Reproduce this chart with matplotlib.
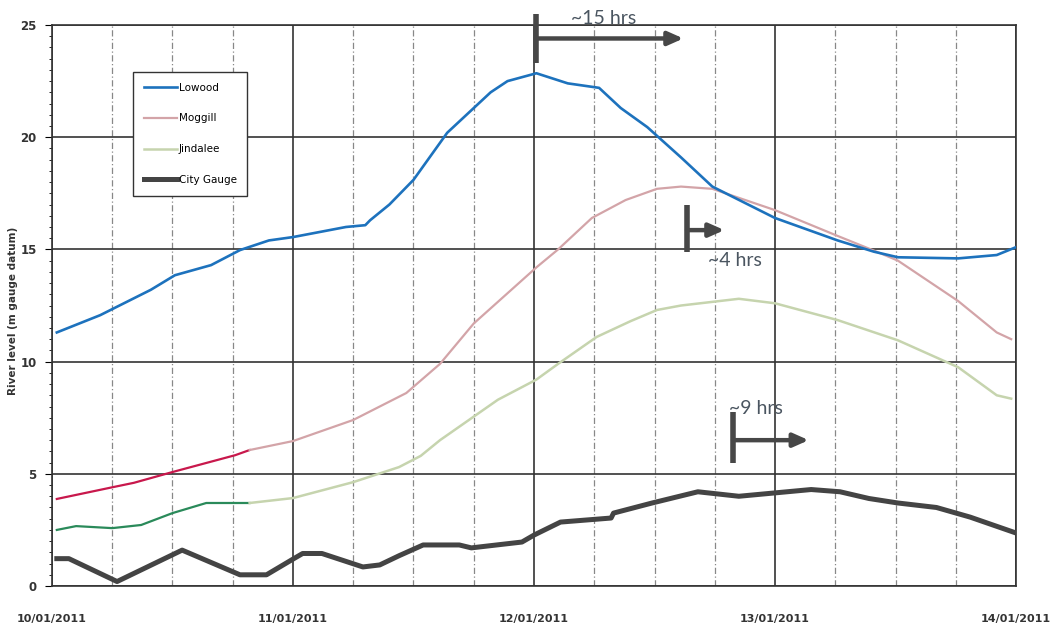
import matplotlib
matplotlib.use('Agg')
import matplotlib.pyplot as plt
from matplotlib.ticker import MultipleLocator

# time in days since 10/01/2011 00:00, river level in metres
lowood_t = [0.02, 0.2, 0.41, 0.51, 0.66, 0.78, 0.9, 1.0, 1.22, 1.3, 1.32, 1.4, 1.5, 1.64,
            1.75, 1.82, 1.89, 2.01, 2.14, 2.27, 2.36, 2.47, 2.61, 2.74, 3.0, 3.26, 3.41,
            3.51, 3.76, 3.92, 4.0]
lowood_y = [11.3, 12.07, 13.2, 13.85, 14.3, 14.97, 15.4, 15.55, 16.0, 16.08, 16.3, 17.0,
            18.1, 20.2, 21.3, 22.0, 22.5, 22.85, 22.4, 22.2, 21.3, 20.45, 19.1, 17.8,
            16.4, 15.4, 14.9, 14.65, 14.6, 14.75, 15.1]

moggill_obs_t = [0.02, 0.25, 0.34, 0.5, 0.76, 0.82]
moggill_obs_y = [3.88, 4.4, 4.6, 5.08, 5.83, 6.06]
moggill_fc_t = [0.82, 1.0, 1.25, 1.36, 1.47, 1.61, 1.75, 2.01, 2.1, 2.24, 2.38, 2.51,
                2.61, 2.74, 3.0, 3.26, 3.41, 3.51, 3.76, 3.92, 3.98]
moggill_fc_y = [6.06, 6.46, 7.4, 8.0, 8.6, 9.9, 11.7, 14.2, 15.0, 16.4, 17.2, 17.7,
                17.8, 17.7, 16.75, 15.6, 14.95, 14.5, 12.7, 11.3, 11.0]

jindalee_obs_t = [0.02, 0.1, 0.25, 0.37, 0.5, 0.64, 0.82]
jindalee_obs_y = [2.5, 2.67, 2.58, 2.72, 3.25, 3.7, 3.7]
jindalee_fc_t = [0.82, 1.0, 1.25, 1.44, 1.53, 1.61, 1.73, 1.85, 2.01, 2.1, 2.26, 2.4,
                 2.51, 2.61, 2.85, 3.0, 3.26, 3.51, 3.76, 3.92, 3.98]
jindalee_fc_y = [3.7, 3.92, 4.63, 5.3, 5.8, 6.5, 7.4, 8.3, 9.2, 9.9, 11.1, 11.8, 12.3,
                 12.5, 12.8, 12.6, 11.85, 10.95, 9.75, 8.5, 8.35]

city_t = [0.02, 0.07, 0.27, 0.54, 0.78, 0.89, 1.0, 1.04, 1.12, 1.29, 1.36, 1.44, 1.54,
          1.69, 1.74, 1.95, 2.0, 2.11, 2.32, 2.33, 2.49, 2.68, 2.85, 3.0, 3.15, 3.27,
          3.39, 3.51, 3.67, 3.81, 3.99]
city_y = [1.22, 1.22, 0.2, 1.6, 0.5, 0.5, 1.2, 1.45, 1.45, 0.85, 0.94, 1.35, 1.83,
          1.83, 1.7, 1.96, 2.27, 2.85, 3.03, 3.25, 3.7, 4.2, 4.0, 4.15, 4.3, 4.2, 3.9,
          3.7, 3.5, 3.07, 2.4]

day_labels = ['10/01/2011', '11/01/2011', '12/01/2011', '13/01/2011', '14/01/2011']

# travel time markers: (bar x, bar bottom, bar top, arrow y, arrow end x, text, text x, text y)
lags = [
    (2.008, 23.3, 25.5, 24.4, 2.62, '~15 hrs', 2.29, 25.3, 'center'),
    (2.635, 14.9, 16.97, 15.86, 2.79, '~4 hrs', 2.72, 14.5, 'left'),
    (2.826, 5.48, 7.75, 6.5, 3.14, '~9 hrs', 2.81, 7.93, 'left'),
]

fig = plt.figure(figsize=(10.59, 6.3), dpi=100)
ax = fig.add_axes([0.0491, 0.0698, 0.9103, 0.8905])

ax.set_xlim(0, 4)
ax.set_ylim(0, 25)

ax.plot(lowood_t, lowood_y, color='#1d72bd', lw=1.9, label='Lowood', zorder=5)
ax.plot(moggill_obs_t, moggill_obs_y, color='#c8184c', lw=1.6, zorder=4)
ax.plot(moggill_fc_t, moggill_fc_y, color='#d3a4a8', lw=1.6, label='Moggill', zorder=4)
ax.plot(jindalee_obs_t, jindalee_obs_y, color='#2a8a5a', lw=1.6, zorder=4)
ax.plot(jindalee_fc_t, jindalee_fc_y, color='#c6d4ae', lw=1.8, label='Jindalee', zorder=4)
ax.plot(city_t, city_y, color='#444444', lw=3.6, label='City Gauge', zorder=4)

# grid
ax.xaxis.set_major_locator(MultipleLocator(1))
ax.xaxis.set_minor_locator(MultipleLocator(0.25))
ax.yaxis.set_major_locator(MultipleLocator(5))
ax.yaxis.set_minor_locator(MultipleLocator(0.5))
ax.grid(which='major', color='#333333', lw=1.2)
ax.grid(which='minor', axis='x', color='#888888', lw=0.9, linestyle=(0, (5, 2, 1, 2)))
ax.set_axisbelow(True)
for s in ax.spines.values():
    s.set_color('#333333')
    s.set_linewidth(1.2)

ax.set_xticks(range(len(day_labels)))
ax.set_xticklabels(day_labels)
ax.tick_params(axis='x', which='both', length=0, pad=20, labelsize=8)
ax.tick_params(axis='y', which='major', length=5, labelsize=8.5, pad=6)
ax.tick_params(axis='y', which='minor', length=2.5)
for lab in ax.get_xticklabels() + ax.get_yticklabels():
    lab.set_fontweight('bold')
    lab.set_color('#333333')
ax.set_ylabel('River level (m gauge datum)', fontsize=7.5, color='#333333',
              fontweight='bold')
ax.yaxis.set_label_coords(-0.035, 0.49)

leg = ax.legend(loc='upper left', bbox_to_anchor=(128 / 1059, 1 - 67 / 630),
                bbox_transform=fig.transFigure, fontsize=7.5, frameon=True,
                fancybox=False, edgecolor='#333333', labelspacing=2.0,
                handlelength=3.2, borderpad=1.0, handletextpad=0.2)
leg.get_frame().set_linewidth(1.0)
leg.get_frame().set_alpha(1)

for bx, b0, b1, ay, ax_end, txt, tx, ty, ha in lags:
    ax.plot([bx, bx], [b0, b1], color='#474747', lw=4, solid_capstyle='butt',
            clip_on=False, zorder=8)
    ax.annotate('', xy=(ax_end, ay), xytext=(bx, ay), annotation_clip=False,
                arrowprops=dict(arrowstyle='-|>,head_length=0.9,head_width=0.4',
                                lw=3.2, color='#474747', shrinkA=0, shrinkB=0),
                zorder=8)
    ax.text(tx, ty, txt, ha=ha, va='center', fontsize=14, family='Lato',
            color='#4a5560', zorder=9, clip_on=False)

fig.savefig('out.png', dpi=100)
